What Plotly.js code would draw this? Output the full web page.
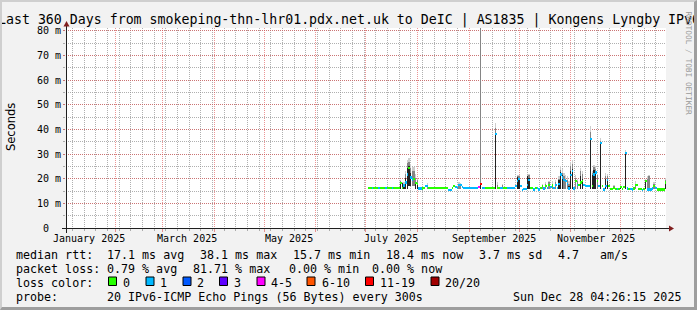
<!DOCTYPE html>
<html><head><meta charset="utf-8">
<script src="https://cdn.plot.ly/plotly-3.0.1.min.js"></script>
<style>
html,body{margin:0;padding:0;background:#f2f2f2;}
#wrap{position:relative;width:697px;height:310px;overflow:hidden;}
#chart{width:697px;height:310px;}
#frame{position:absolute;left:0;top:0;width:697px;height:310px;box-sizing:border-box;border-top:2px solid #cfcfcf;border-left:2px solid #cfcfcf;border-right:3px solid #9e9e9e;border-bottom:3px solid #9e9e9e;pointer-events:none;}
</style></head><body>
<div id="wrap"><div id="chart"></div><div id="frame"></div></div>
<script>
// ---------------- data ----------------
const startDate = '2025-07-03';   // first day with measurements (one value per day)
const medianMs = [
  16.1,16.1,16.1,16.1,16.1,16.1,16.1,16.1,16.1,16.1,
  16.1,16.1,16.1,16.1,16.1,16.1,16.1,16.1,16.1,18.3,
  16.3,17.3,18.5,21.7,24.5,20.5,19.7,20.0,18.3,18.0,
  16.0,16.0,16.0,16.1,17.0,17.0,16.1,16.1,16.1,16.1,
  16.1,16.1,16.1,16.1,16.1,16.1,16.1,16.1,15.4,15.4,
  16.1,17.0,16.5,16.1,17.6,17.6,16.8,16.1,16.1,16.1,
  16.1,16.1,16.1,16.1,16.1,16.1,16.5,18.0,16.1,16.1,
  16.1,16.1,16.1,16.1,16.1,16.1,38.3,16.1,16.1,16.1,
  16.1,16.1,16.1,16.1,16.1,16.1,16.1,16.1,17.0,19.0,
  20.0,17.0,15.5,15.8,15.8,17.5,19.6,16.1,16.1,15.6,
  16.1,16.1,15.6,16.1,17.0,16.0,17.0,16.1,17.5,16.5,
  17.3,16.3,17.6,16.3,18.0,21.7,20.5,19.5,19.0,18.0,
  16.0,21.5,23.0,16.0,19.0,17.6,17.6,18.5,19.0,17.5,
  17.0,17.2,17.0,36.1,17.0,21.7,22.5,19.0,17.0,34.5,
  17.0,15.6,17.0,19.5,17.0,15.9,15.9,16.2,15.9,15.9,
  15.9,16.5,15.9,16.5,30.5,16.0,15.9,15.9,15.6,16.0,
  17.5,17.5,15.8,15.8,15.4,15.8,19.0,15.6,15.6,15.6,
  16.0,17.0,16.2,15.6,15.6,15.6,15.6,15.6,18.5
];
const lossIdx = [
  0,0,1,0,0,0,1,0,0,0,
  1,0,0,0,1,0,0,0,0,0,
  0,1,1,1,0,1,1,0,0,0,
  1,1,0,0,1,1,0,0,0,0,
  0,0,0,0,0,0,0,0,1,1,
  0,0,1,1,1,1,1,1,1,1,
  1,1,1,1,1,1,4,6,1,1,
  0,0,0,0,0,0,1,0,0,1,
  1,0,0,1,1,1,1,1,1,1,
  1,1,1,1,1,1,1,0,0,1,
  0,1,1,0,0,1,0,1,0,1,
  0,1,1,1,1,1,1,1,1,1,
  1,1,1,1,0,1,0,0,0,1,
  1,1,1,1,0,1,1,0,1,1,
  0,1,1,1,0,0,0,0,0,1,
  0,0,0,0,1,1,0,1,1,0,
  0,0,0,0,1,0,0,1,1,1,
  1,0,1,0,0,0,0,0,0
];
const smokeDates = ['2025-07-22','2025-07-23','2025-07-24','2025-07-25','2025-07-26','2025-07-27','2025-07-28','2025-07-29','2025-07-30','2025-07-31',
  '2025-08-01','2025-08-07','2025-08-26','2025-08-27','2025-09-08','2025-09-17','2025-09-18','2025-09-21','2025-09-30','2025-10-01',
  '2025-10-06','2025-10-07','2025-10-15','2025-10-17','2025-10-19','2025-10-21','2025-10-23','2025-10-25','2025-10-26','2025-10-27',
  '2025-10-28','2025-10-29','2025-10-30','2025-10-31','2025-11-01','2025-11-02','2025-11-04','2025-11-05','2025-11-07','2025-11-08',
  '2025-11-13','2025-11-14','2025-11-15','2025-11-16','2025-11-17','2025-11-19','2025-11-22','2025-11-23','2025-11-27','2025-12-01',
  '2025-12-04','2025-12-10','2025-12-16','2025-12-17','2025-12-18','2025-12-21','2025-12-28'];
const smokeLo = [16,16,16,16,16,17,17,17,17,16, 16,16,16,16,16,16,16,16,16,16, 16,16,16,16,16,16,16,16,16,16,
  16,16,16,16,16,16,16,16,16,16, 16,16,16,16,16,16,16,16,16,16, 16,16,16,15.5,15.5,16,16];
const smokeDark = [18.3,18.3,17.3,20.5,24.5,25,22.5,null,null,18.5, 18,null,null,null,18,38.3,null,null,20.6,20, 21,20.5,null,null,null,null,null,19.5,22.6,21.5,
  null,null,null,17,23,24,null,null,21,20, 36.1,21.7,23.7,22.5,null,34.5,19.7,19.7,null,17, 30.5,null,19.5,null,null,null,19];
const smokeMid = [19,null,18,22,26.5,27,24.5,23,23,20.5, 19.4,17.5,18,17.5,90,40.5,17.5,17.5,21,21, null,21.5,17.5,18,18.5,18,18.5,20,23.5,22.5,
  21,20,19.5,18,25,26,20.5,19,23,22, 39,22.5,24.7,24,21.5,35.5,21,21,17,null, 31,18,null,20,21,18,19.5];
const smokeLight = [19.5,18.5,18.5,23,27.8,28.5,26,24.6,24.6,22, 20,18.3,18.5,18.3,90,42.5,18.6,18,21.5,21.5, 21.5,22,18,18.8,19,19,19.5,21,25,24,
  22.5,21.5,21,19,27,27.8,21.5,20,24.4,23, 41.3,23,25.7,25,22,36.5,22.4,22,17.5,17.5, 31.5,19,20,21,21.5,18.5,20.3];

const lossColors = ['#26ff00','#00b8ff','#0059ff','#5e00ff','#ff00ff','#ff5500','#ff0000','#a10000'];
const lossLabels = ['0','1','2','3','4-5','6-10','11-19','20/20'];

const yTickVals = [0,10,20,30,40,50,60,70,80];
const yTickText = ['0\u00a0\u00a0','10 m','20 m','30 m','40 m','50 m','60 m','70 m','80 m'];
const xLabelDates = ['2025-01-16','2025-03-16','2025-05-16','2025-07-16','2025-09-16','2025-11-16'];
const xLabelText = ['January 2025','March 2025','May 2025','July 2025','September 2025','November 2025'];

const titleText = 'Last 360 Days from smokeping-thn-lhr01.pdx.net.uk to DeIC | AS1835 | Kongens Lyngby IPv6';
const rttStats = ['median rtt:','17.1 ms avg','38.1 ms max','15.7 ms min','18.4 ms now','3.7 ms sd','4.7','am/s'];
const lossStats = ['packet loss:','0.79 % avg','81.71 % max','0.00 % min','0.00 % now'];
const probeInfo = ['probe:','20 IPv6-ICMP Echo Pings (56 Bytes) every 300s','Sun Dec 28 04:26:15 2025'];

// ---------------- layout helpers ----------------
const L = 66, W = 600, T = 28, H = 200;
const X = px => (px - L) / W;
const Y = py => (T + H - py) / H;
const mono = 'DejaVu Sans Mono';

function addDays(s, n){ const d = new Date(s + 'T00:00:00Z'); d.setUTCDate(d.getUTCDate() + n); return d.toISOString().slice(0,10); }
const days = medianMs.map((_, i) => addDays(startDate, i));
const DAY = 86400000;

const traces = [];
function smokeLayer(tops, color){
  traces.push({type:'bar', x: smokeDates, base: smokeLo, y: tops.map((t,i) => t == null ? null : t - smokeLo[i]),
    width: DAY * 0.9, marker:{color: color, line:{width:0}}, hoverinfo:'skip', showlegend:false});
}
smokeLayer(smokeLight, '#cdcdcd');
smokeLayer(smokeMid, '#858585');
smokeLayer(smokeDark, '#222222');
traces.push({type:'bar', x: days, base: medianMs.map(v => v - 0.45), y: medianMs.map(() => 0.9),
  width: DAY, marker:{color: lossIdx.map(i => lossColors[i]), line:{width:0}}, hoverinfo:'skip', showlegend:false});

const gridMaj = 'rgba(222,79,79,0.6)';
const gridMin = 'rgba(143,143,143,0.7)';
const xRange = ['2025-01-02 04:26:15', '2025-12-28 04:26:15'];

const ann = [];
function txt(text, px, py, opts){
  ann.push(Object.assign({text: text, x: X(px), y: Y(py), xref:'paper', yref:'paper', showarrow:false,
    xanchor:'left', yanchor:'middle', borderpad:0, borderwidth:0,
    font:{family: mono, size: 11.66, color:'#000'}}, opts || {}));
}
// title
txt(titleText, 348.5, 19.5, {xanchor:'center', font:{family: mono, size: 13.25, color:'#000'}});
// y title
txt('Seconds', 10.5, 127.5, {xanchor:'center', textangle:-90, font:{family:'DejaVu Sans', size: 11.5, color:'#000'}});
// watermark
txt('RRDTOOL / TOBI OETIKER', 688.5, 63, {xanchor:'center', textangle:90, font:{family: mono, size: 7.8, color:'#9a9a9a'}});
// x-axis labels (placed on the date axis)
xLabelDates.forEach((d, i) => ann.push({text: xLabelText[i], x: d, xref:'x', y: Y(238), yref:'paper', showarrow:false,
  xanchor:'center', yanchor:'middle', borderpad:0, borderwidth:0, font:{family: mono, size: 10, color:'#000'}}));
// legend line 1
const r1x = [16, 106.5, 199.5, 292.5, 385.5, 478.5, 557.5, 599.5];
rttStats.forEach((s, i) => txt(s, r1x[i], 254.5));
const r2x = [16, 106.5, 192.5, 288.5, 371.5];
lossStats.forEach((s, i) => txt(s, r2x[i], 268.5));
txt('loss color:', 16, 282.5);
const boxX = [108.5, 146, 183, 219.5, 257, 307, 365.5, 431];
const lblX = [123, 160, 197, 234, 270.5, 321.5, 380, 445];
const shapes = [];
lossLabels.forEach((s, i) => {
  txt(s, lblX[i], 282.5);
  shapes.push({type:'rect', xref:'paper', yref:'paper', x0: X(boxX[i]), x1: X(boxX[i] + 8), y0: Y(277), y1: Y(285.5),
    fillcolor: lossColors[i], line:{color:'#000', width:1}});
});
txt(probeInfo[0], 16, 296.5);
txt(probeInfo[1], 106.5, 296.5);
txt(probeInfo[2], 680.5, 296.5, {xanchor:'right'});

// axes lines + arrows
shapes.push({type:'line', xref:'paper', yref:'paper', x0: X(62), x1: X(671), y0: Y(228.5), y1: Y(228.5), line:{color:'#1f1f1f', width:1}});
shapes.push({type:'line', xref:'paper', yref:'paper', x0: X(66.5), x1: X(66.5), y0: Y(233), y1: Y(25), line:{color:'#1f1f1f', width:1}});
shapes.push({type:'path', xref:'paper', yref:'paper', path: `M ${X(669)} ${Y(225.5)} L ${X(674)} ${Y(228.5)} L ${X(669)} ${Y(231.5)} Z`, fillcolor:'#801f1f', line:{width:0}});
shapes.push({type:'path', xref:'paper', yref:'paper', path: `M ${X(63.5)} ${Y(26.5)} L ${X(66.5)} ${Y(21)} L ${X(69.5)} ${Y(26.5)} Z`, fillcolor:'#801f1f', line:{width:0}});

const layout = {
  width: 697, height: 310,
  margin: {l: L, r: 697 - L - W, t: T, b: 310 - T - H, pad: 0},
  paper_bgcolor: '#f2f2f2', plot_bgcolor: '#ffffff',
  barmode: 'overlay', bargap: 0, showlegend: false,
  xaxis: {type:'date', range: xRange, tickmode:'linear', tick0:'2025-01-01', dtick:'M1',
    showticklabels:false, ticks:'outside', ticklen:3, tickcolor: gridMaj, tickwidth:1,
    showgrid:true, gridcolor: gridMaj, griddash:'1px,1px', gridwidth:1, zeroline:false, showline:false,
    minor:{tickmode:'linear', tick0:'2025-01-06', dtick: 7*DAY, showgrid:true, gridcolor: gridMin, griddash:'1px,1px', gridwidth:1,
      ticks:'outside', ticklen:2, tickcolor: gridMin}},
  yaxis: {range:[0, 81.2], tickmode:'array', tickvals: yTickVals, ticktext: yTickText,
    ticks:'outside', ticklen:2, tickcolor: gridMaj, showgrid:true, gridcolor: gridMaj, griddash:'1px,1px', gridwidth:1,
    zeroline:false, showline:false, tickfont:{family: mono, size: 10, color:'#000'},
    minor:{tickmode:'linear', tick0:0, dtick:5, showgrid:true, gridcolor: gridMin, griddash:'1px,1px', gridwidth:1,
      ticks:'outside', ticklen:2, tickcolor: gridMin}},
  annotations: ann, shapes: shapes
};
Plotly.newPlot('chart', traces, layout, {staticPlot:true, displayModeBar:false});
</script>
</body></html>
